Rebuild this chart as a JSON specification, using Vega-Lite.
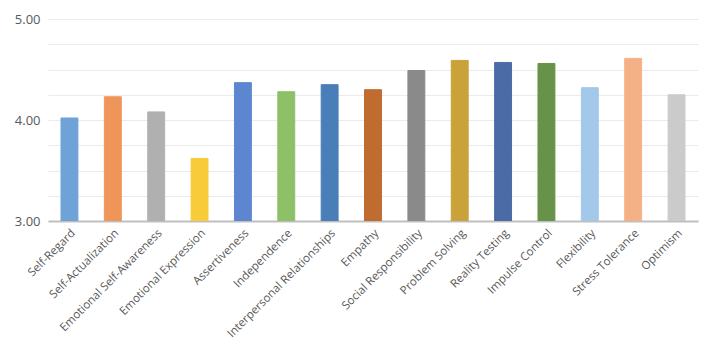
{
  "$schema": "https://vega.github.io/schema/vega-lite/v6.json",
  "width": 650,
  "height": 202,
  "autosize": {"type": "none"},
  "padding": {"left": 48, "top": 19, "right": 22, "bottom": 141},
  "background": "white",
  "config": {
    "view": {"stroke": null},
    "font": "Open Sans",
    "axis": {"labelFont": "Open Sans", "labelColor": "#595959"}
  },
  "data": {
    "values": [
      {"scale": "Self-Regard", "score": 4.02, "color": "#6FA3D8"},
      {"scale": "Self-Actualization", "score": 4.23, "color": "#F0955A"},
      {"scale": "Emotional Self-Awareness", "score": 4.08, "color": "#B0B0B0"},
      {"scale": "Emotional Expression", "score": 3.62, "color": "#F8CB3A"},
      {"scale": "Assertiveness", "score": 4.37, "color": "#5C87D0"},
      {"scale": "Independence", "score": 4.28, "color": "#8DC067"},
      {"scale": "Interpersonal Relationships", "score": 4.35, "color": "#4A7EB8"},
      {"scale": "Empathy", "score": 4.30, "color": "#C06B30"},
      {"scale": "Social Responsibility", "score": 4.49, "color": "#8A8A8A"},
      {"scale": "Problem Solving", "score": 4.59, "color": "#C9A23A"},
      {"scale": "Reality Testing", "score": 4.57, "color": "#4A6BA5"},
      {"scale": "Impulse Control", "score": 4.56, "color": "#67924A"},
      {"scale": "Flexibility", "score": 4.32, "color": "#A3C8EA"},
      {"scale": "Stress Tolerance", "score": 4.61, "color": "#F5B186"},
      {"scale": "Optimism", "score": 4.25, "color": "#CBCBCB"}
    ]
  },
  "mark": {"type": "bar", "strokeWidth": 1, "clip": true},
  "encoding": {
    "x": {
      "field": "scale",
      "type": "nominal",
      "sort": null,
      "scale": {"paddingInner": 0.61, "paddingOuter": 0.3},
      "axis": {
        "title": null,
        "labelAngle": -45,
        "labelFontSize": 11.5,
        "labelAlign": "right",
        "labelBaseline": "top",
        "labelPadding": 6,
        "ticks": false,
        "domainColor": "#BFBFBF",
        "domainWidth": 2,
        "labelOverlap": false
      }
    },
    "y": {
      "field": "score",
      "type": "quantitative",
      "scale": {"domain": [3, 5], "nice": false, "zero": false},
      "axis": {
        "title": null,
        "values": [3, 3.25, 3.5, 3.75, 4, 4.25, 4.5, 4.75, 5],
        "labelExpr": "datum.value % 1 === 0 ? format(datum.value, '.2f') : ''",
        "labelFontSize": 13,
        "labelPadding": 8,
        "ticks": false,
        "domain": false,
        "gridColor": "#EBEBEB",
        "gridWidth": 1
      }
    },
    "color": {"field": "color", "type": "nominal", "scale": null},
    "stroke": {"field": "color", "type": "nominal", "scale": null}
  }
}
